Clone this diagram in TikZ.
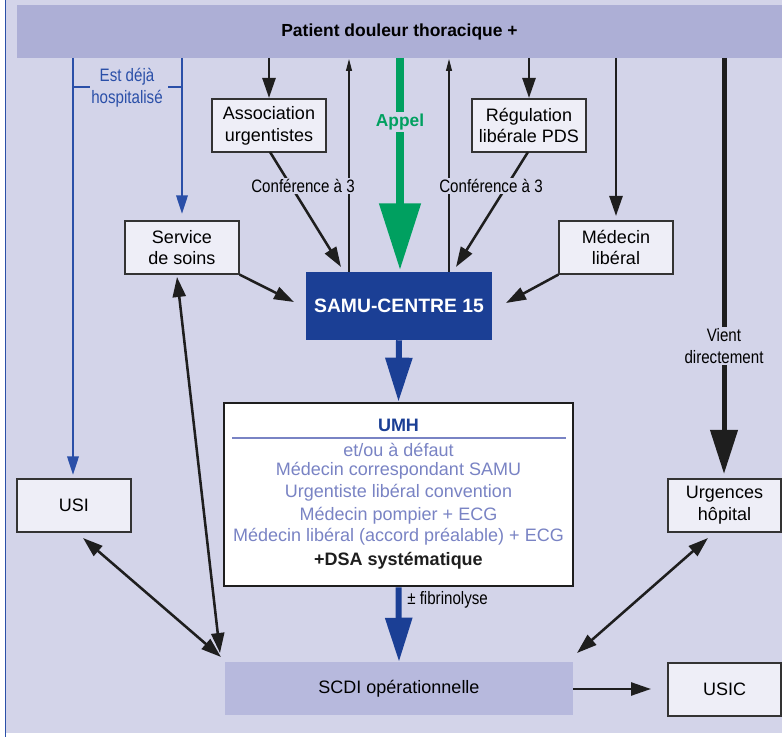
\documentclass[tikz,border=0pt]{standalone}
\usepackage{fontspec}
\setmainfont{Liberation Sans}
\newfontfamily\condf[FakeStretch=0.84]{Liberation Sans}
\usetikzlibrary{arrows.meta,calc}
\definecolor{bgc}{HTML}{D3D4E9}
\definecolor{barc}{HTML}{ADAFD6}
\definecolor{boxfill}{HTML}{EEEEF7}
\definecolor{boxdraw}{HTML}{333333}
\definecolor{samuc}{HTML}{1B3F95}
\definecolor{greenc}{HTML}{00A060}
\definecolor{umhc}{HTML}{7983C4}
\definecolor{bluel}{HTML}{2A4FA8}
\definecolor{scdic}{HTML}{B7B9DD}
\definecolor{blk}{HTML}{1E1E1E}
\tikzset{
  txt/.style={font=\fontsize{13.5}{16.3}\selectfont, align=center},
  sbox/.style={txt, draw=boxdraw, line width=0.9pt, fill=boxfill, inner sep=0pt,
     minimum width=85.5pt, minimum height=39.75pt},
  lab/.style={fill=bgc, inner sep=1.5pt, font=\condf\fontsize{13.5}{16.3}\selectfont, align=center},
  arr/.style={draw=blk, line width=1.9pt, -{Triangle[length=15pt,width=9.75pt]}},
  darr/.style={draw=blk, line width=1.9pt, {Triangle[length=15pt,width=9.75pt]}-{Triangle[length=15pt,width=9.75pt]}},
  thinarr/.style={draw=blk, line width=0.8pt, -{Triangle[length=9pt,width=4.5pt]}},
  bluearr/.style={draw=bluel, line width=1.9pt, -{Triangle[length=14pt,width=8.5pt]}},
  bigblue/.style={draw=samuc, line width=4.5pt, -{Triangle[length=33pt,width=19.5pt]}},
  greenarr/.style={draw=greenc, line width=6pt, -{Triangle[length=50pt,width=30pt]}},
  thickarr/.style={draw=blk, line width=3.75pt, -{Triangle[length=33pt,width=20pt]}},
  umhline/.style={font=\fontsize{13.5}{16.3}\selectfont, text=umhc, inner sep=0pt}
}
\begin{document}
\begin{tikzpicture}[x=0.75pt,y=-0.75pt]
\useasboundingbox (0,0) rectangle (782,737);
\fill[bgc] (6,0) rectangle (782,733);
\draw[bluel, line width=1.4pt] (5.5,0) -- (5.5,737);

% nodes
\node[fill=barc, minimum width=573.75pt, minimum height=39.75pt, inner sep=0pt,
      font=\bfseries\fontsize{13.1}{16}\selectfont] (bar) at (399.5,31.5) {Patient douleur thoracique +};
\node[sbox] (assoc) at (269,125.5) {Association\\urgentistes};
\node[sbox] (regul) at (529,125.5) {Régulation\\libérale PDS};
\node[sbox] (soins) at (182,247.5) {Service\\de soins};
\node[sbox] (medlib) at (616,247.5) {Médecin\\libéral};
\node[fill=samuc, text=white, minimum width=139.5pt, minimum height=51pt, inner sep=0pt,
      font=\bfseries\fontsize{14.5}{17}\selectfont] (samu) at (399,306) {SAMU-CENTRE 15};
\node[draw=blk, line width=2pt, fill=white, minimum width=261.75pt, minimum height=137.25pt,
      inner sep=0pt] (umh) at (398.5,494.5) {};
\node[sbox] (usi) at (74,505.5) {USI};
\node[sbox, minimum width=84.75pt] (urg) at (724.5,505.5) {Urgences\\hôpital};
\node[sbox, minimum width=84.75pt] (usic) at (724.5,689.5) {USIC};
\node[txt, fill=scdic, minimum width=261pt, minimum height=39.75pt, inner sep=0pt] (scdi) at (399,688.5) {SCDI opérationnelle};

% UMH content
\node[font=\bfseries\fontsize{13.5}{16.3}\selectfont, text=samuc, inner sep=0pt] (umht) at (398.5,425) {UMH};
\coordinate (rl) at (232,438);
\coordinate (rr) at (566,438);
\draw[umhc, line width=0.8pt] (rl) -- (rr);
\node[umhline] (u1) at (398.5,449.5) {et/ou à défaut};
\node[umhline] (u2) at (398.5,471) {Médecin correspondant SAMU};
\node[umhline] (u3) at (398.5,493) {Urgentiste libéral convention};
\node[umhline] (u4) at (398.5,515.5) {Médecin pompier + ECG};
\node[umhline] (u5) at (398.5,537) {Médecin libéral (accord préalable) + ECG};
\node[font=\bfseries\fontsize{13.5}{16.3}\selectfont, text=blk, inner sep=0pt] (u6) at (398.5,560.5) {+DSA systématique};

% coordinates
\coordinate (b73) at (73,58);
\coordinate (e73) at (73,475);
\coordinate (b182) at (182,58);
\coordinate (e182) at (182,214);
\coordinate (t1a) at (73,87);
\coordinate (t1b) at (90,87);
\coordinate (t2a) at (168,87);
\coordinate (t2b) at (182,87);
\coordinate (b269) at (269,58);
\coordinate (e269) at (269,98);
\coordinate (b529) at (529,58);
\coordinate (e529) at (529,98);
\coordinate (b616) at (616,58);
\coordinate (e616) at (616,216);
\coordinate (s349) at (349,272);
\coordinate (e349) at (349,59);
\coordinate (s449) at (449,272);
\coordinate (e449) at (449,59);
\coordinate (b400) at (400,58);
\coordinate (e400) at (400,270);
\coordinate (ca) at (270,152);
\coordinate (cae) at (341,267);
\coordinate (cr) at (528,152);
\coordinate (cre) at (456,267);
\coordinate (se) at (294,302);
\coordinate (me) at (506,303);
\coordinate (b724) at (724,58);
\coordinate (e724) at (724,474);
\coordinate (so1) at (177,277);
\coordinate (so2) at (220,653);
\coordinate (us1) at (83,538);
\coordinate (us2) at (221,657);
\coordinate (ur1) at (708,538);
\coordinate (ur2) at (577,653);
\coordinate (sc1) at (573,689);
\coordinate (sc2) at (651,689);

% connectors
\draw[bluearr] (b73) -- (e73);
\draw[bluearr] (b182) -- (e182);
\draw[bluel, line width=0.8pt] (t1a) -- (t1b);
\draw[bluel, line width=0.8pt] (t2a) -- (t2b);
\draw[arr] (b269) -- (e269);
\draw[arr] (b529) -- (e529);
\draw[arr] (b616) -- (e616);
\draw[thinarr] (s349) -- (e349);
\draw[thinarr] (s449) -- (e449);
\draw[greenarr] (b400) -- (e400);
\draw[arr] (ca) -- (cae);
\draw[arr] (cr) -- (cre);
\draw[arr] (soins.south east) -- (se);
\draw[arr] (medlib.south west) -- (me);
\draw[thickarr] (b724) -- (e724);
\draw[bigblue] (samu.south) -- (umh.north);
\draw[bigblue] (umh.south) -- (scdi.north);
\draw[darr] (so1) -- (so2);
\draw[darr] (us1) -- (us2);
\draw[darr] (ur1) -- (ur2);
\draw[arr] (sc1) -- (sc2);

% labels
\node[font=\condf\fontsize{13.5}{16.3}\selectfont, text=bluel, align=center, inner sep=0pt] (hosp) at (127,87.5) {Est déjà\\hospitalisé};
\node[lab, inner sep=1pt] (conf1) at (303,186) {Conférence à 3};
\node[lab, inner sep=1pt] (conf2) at (491,186) {Conférence à 3};
\node[fill=bgc, inner sep=1.5pt, text=greenc, font=\bfseries\fontsize{13}{15}\selectfont] (appel) at (400,122) {Appel};
\node[lab] (vient) at (724,346) {Vient\\directement};
\node[font=\condf\fontsize{13.5}{16.3}\selectfont, anchor=west, inner sep=0pt] (fibr) at (407,600) {± fibrinolyse};
\end{tikzpicture}
\end{document}
